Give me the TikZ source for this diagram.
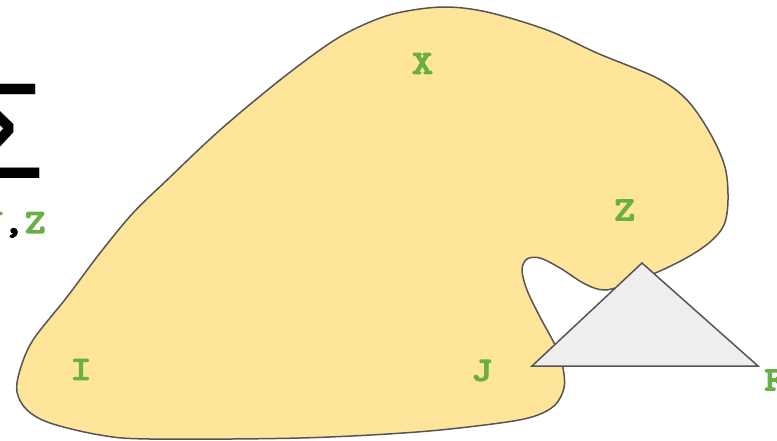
\documentclass[tikz,border=0pt]{standalone}
\usepackage{fontspec}
\newfontfamily\labfont{lmmonolt10-bold.otf}[FakeStretch=1.2,FakeBold=3]
\newfontfamily\sigmafont{Liberation Sans}
\definecolor{blobfill}{HTML}{FFE599}
\definecolor{blobline}{HTML}{555555}
\definecolor{trifill}{HTML}{EEEEEE}
\definecolor{labgreen}{HTML}{6AAF45}

\begin{document}
\begin{tikzpicture}[x=1pt,y=-1pt,
    outline/.style={draw=blobline,line width=1.5pt},
    lab/.style={text=labgreen,font=\labfont\fontsize{34}{34}\selectfont,inner sep=0pt}]
  \useasboundingbox (0,0) rectangle (777,440);
  \clip (0,0) rectangle (777,440);
  % the region
  \draw[outline,fill=blobfill] plot[smooth cycle,tension=0.55] coordinates {
    (443,7) (487,12) (547,30) (597,53) (657,78) (687,100) (710,133) (725,167)
    (728,200) (724,225) (710,242) (688,257) (660,271) (630,283) (605,290)
    (585,284) (560,268) (540,258) (527,259) (522,270) (527,290) (540,317)
    (555,345) (563,368) (564,388) (555,405) (535,416) (500,423) (417,432)
    (300,438) (150,439) (100,435) (50,423) (27,410) (17,392) (20,370)
    (33,340) (67,297) (100,253) (133,213) (167,180) (220,130) (280,80)
    (330,43) (363,25) (397,13)};
  % the triangle
  \draw[outline,fill=trifill] (642,263) -- (532,366) -- (758,366) -- cycle;
  % labels
  \node[lab] (x) at (422.5,63.5) {X};
  \node[lab] (z) at (624.5,210) {Z};
  \node[lab] (i) at (81,369.5) {I};
  \node[lab] (j) at (482,370.5) {J};
  \node[lab,anchor=west] (f) at (764,380) {F};
  % the sum, cut by the left edge
  \node[inner sep=0pt,anchor=base east,font=\sigmafont\fontsize{137}{137}\selectfont] (sum) at (45,178) {Σ};
  \node[lab,text=black,anchor=base east] (sub) at (46,233)
    {\textcolor{labgreen}{X},\textcolor{labgreen}{Y},\textcolor{labgreen}{Z}};
\end{tikzpicture}
\end{document}
